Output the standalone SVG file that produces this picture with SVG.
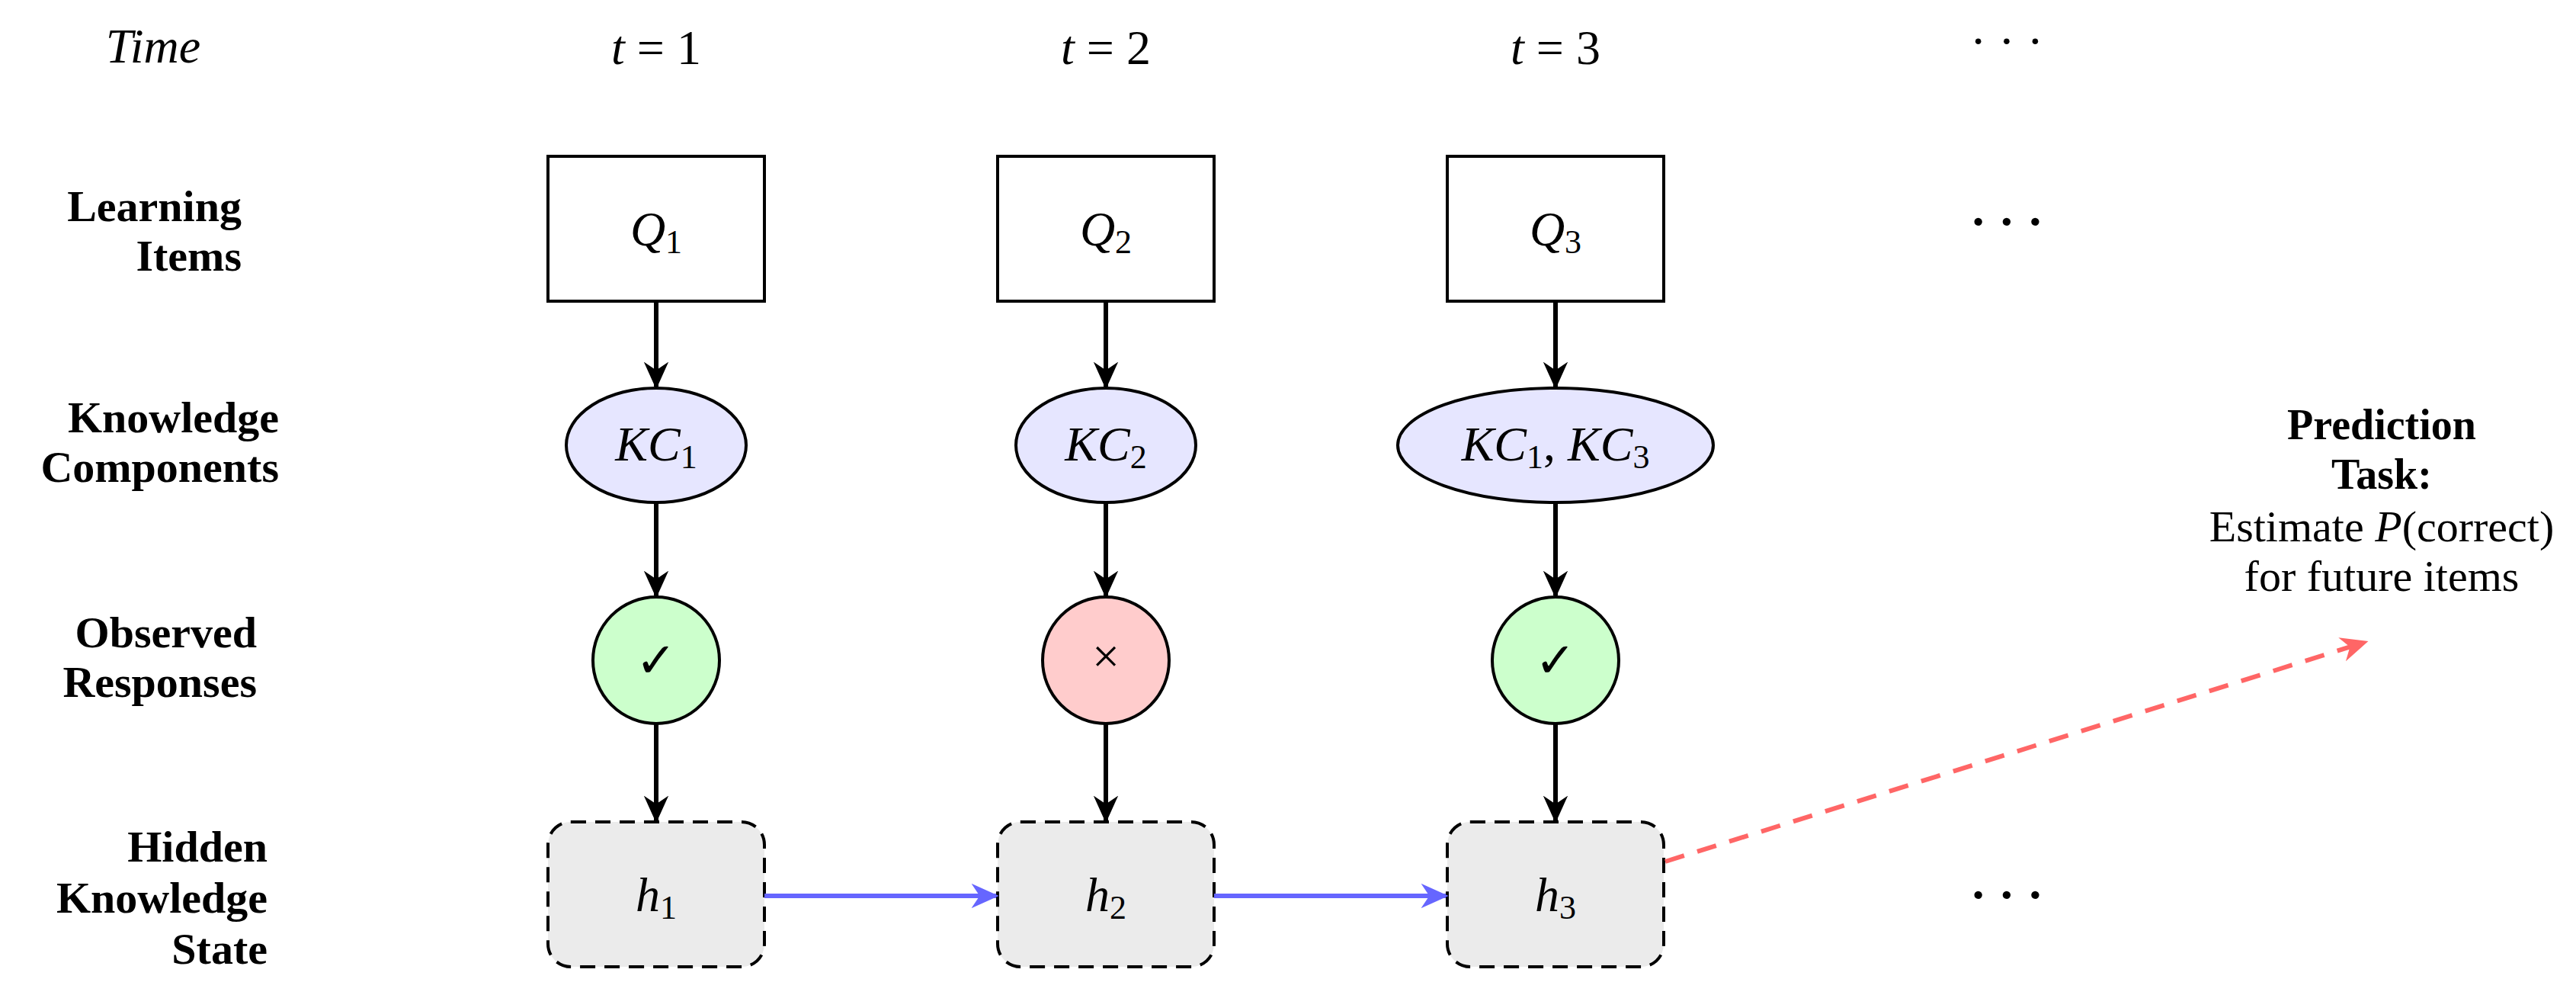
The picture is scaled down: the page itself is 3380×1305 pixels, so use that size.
<svg xmlns="http://www.w3.org/2000/svg" width="3380" height="1305" viewBox="0 0 3380 1305">
<defs>
<style>
text{font-family:"Liberation Serif","DejaVu Serif",serif;fill:#000}
.lab{font-weight:bold;font-size:58px;text-anchor:end}
.m{font-style:italic;font-size:64px;text-anchor:middle}
.r{font-style:normal}
.sub{font-size:44px;font-style:normal}
.box{fill:#fff;stroke:#000;stroke-width:4}
.kc{fill:#e6e6ff;stroke:#000;stroke-width:4}
.h{fill:#ebebeb;stroke:#000;stroke-width:4;stroke-dasharray:20 12}
.blk{stroke:#000;stroke-width:6;fill:none;marker-end:url(#ab)}
.blu{stroke:#6666ff;stroke-width:6;fill:none;marker-end:url(#au)}
</style>
<marker id="ab" viewBox="0 0 20 20" refX="18" refY="10" markerWidth="6" markerHeight="6" markerUnits="strokeWidth" orient="auto"><path d="M0,1 L20,10 L0,19 L6,10 Z" fill="#000"/></marker>
<marker id="au" viewBox="0 0 20 20" refX="18" refY="10" markerWidth="6" markerHeight="6" markerUnits="strokeWidth" orient="auto"><path d="M0,1 L20,10 L0,19 L6,10 Z" fill="#6666ff"/></marker>
<marker id="ar" viewBox="0 0 20 20" refX="18" refY="10" markerWidth="6" markerHeight="6" markerUnits="strokeWidth" orient="auto"><path d="M0,1 L20,10 L0,19 L6,10 Z" fill="#ff6666"/></marker>
</defs>
<g id="labels">
<text x="201" y="82" class="m" font-size="54">Time</text>
<text x="861" y="84" class="m">t <tspan class="r">= 1</tspan></text>
<text x="1451" y="84" class="m">t <tspan class="r">= 2</tspan></text>
<text x="2041" y="84" class="m">t <tspan class="r">= 3</tspan></text>
<text x="2633" y="75" class="m r" font-size="54">· · ·</text>
<text class="lab"><tspan x="317" y="290">Learning</tspan><tspan x="317" y="355">Items</tspan></text>
<text class="lab"><tspan x="366" y="567">Knowledge</tspan><tspan x="366" y="632">Components</tspan></text>
<text class="lab"><tspan x="337" y="849">Observed</tspan><tspan x="337" y="914">Responses</tspan></text>
<text class="lab"><tspan x="351" y="1130">Hidden</tspan><tspan x="351" y="1197">Knowledge</tspan><tspan x="351" y="1264">State</tspan></text>
<text x="2633" y="312" class="m r" font-size="76" font-weight="bold">· · ·</text>
<text x="2633" y="1195" class="m r" font-size="76" font-weight="bold">· · ·</text>
</g>
<g id="prediction" text-anchor="middle">
<text x="3125" y="576" font-weight="bold" font-size="56">Prediction</text>
<text x="3125" y="641" font-weight="bold" font-size="56">Task:</text>
<text x="3125" y="710" font-size="58">Estimate <tspan font-style="italic">P</tspan>(correct)</text>
<text x="3125" y="775" font-size="58">for future items</text>
</g>
<g id="col1">
<g id="q1"><rect class="box" x="719" y="205" width="284" height="190"/><text x="861" y="322" class="m">Q<tspan class="sub" dy="10">1</tspan></text></g>
<g id="kc1"><ellipse class="kc" cx="861" cy="584" rx="118" ry="75"/><text x="861" y="604" class="m">KC<tspan class="sub" dy="10">1</tspan></text></g>
<g id="r1"><circle cx="861" cy="866" r="83" fill="#ccffcc" stroke="#000" stroke-width="4"/><text x="861" y="888" class="m r" font-size="64">✓</text></g>
<g id="h1"><rect class="h" x="719" y="1078" width="284" height="190" rx="30"/><text x="861" y="1195" class="m">h<tspan class="sub" dy="10">1</tspan></text></g>
</g>
<g id="col2">
<g id="q2"><rect class="box" x="1309" y="205" width="284" height="190"/><text x="1451" y="322" class="m">Q<tspan class="sub" dy="10">2</tspan></text></g>
<g id="kc2"><ellipse class="kc" cx="1451" cy="584" rx="118" ry="75"/><text x="1451" y="604" class="m">KC<tspan class="sub" dy="10">2</tspan></text></g>
<g id="r2"><circle cx="1451" cy="866" r="83" fill="#ffcccc" stroke="#000" stroke-width="4"/><text x="1451" y="882" class="m r" font-size="48">×</text></g>
<g id="h2"><rect class="h" x="1309" y="1078" width="284" height="190" rx="30"/><text x="1451" y="1195" class="m">h<tspan class="sub" dy="10">2</tspan></text></g>
</g>
<g id="col3">
<g id="q3"><rect class="box" x="1899" y="205" width="284" height="190"/><text x="2041" y="322" class="m">Q<tspan class="sub" dy="10">3</tspan></text></g>
<g id="kc3"><ellipse class="kc" cx="2041" cy="584" rx="207" ry="75"/><text x="2041" y="604" class="m">KC<tspan class="sub" dy="10">1</tspan><tspan dy="-10" class="r">, </tspan>KC<tspan class="sub" dy="10">3</tspan></text></g>
<g id="r3"><circle cx="2041" cy="866" r="83" fill="#ccffcc" stroke="#000" stroke-width="4"/><text x="2041" y="888" class="m r" font-size="64">✓</text></g>
<g id="h3"><rect class="h" x="1899" y="1078" width="284" height="190" rx="30"/><text x="2041" y="1195" class="m">h<tspan class="sub" dy="10">3</tspan></text></g>
</g>
<g id="connectors">
<line class="blk" x1="861" y1="395" x2="861" y2="507"/>
<line class="blk" x1="861" y1="659" x2="861" y2="781"/>
<line class="blk" x1="861" y1="949" x2="861" y2="1076"/>
<line class="blk" x1="1451" y1="395" x2="1451" y2="507"/>
<line class="blk" x1="1451" y1="659" x2="1451" y2="781"/>
<line class="blk" x1="1451" y1="949" x2="1451" y2="1076"/>
<line class="blk" x1="2041" y1="395" x2="2041" y2="507"/>
<line class="blk" x1="2041" y1="659" x2="2041" y2="781"/>
<line class="blk" x1="2041" y1="949" x2="2041" y2="1076"/>
<line class="blu" x1="1003" y1="1175" x2="1307" y2="1175"/>
<line class="blu" x1="1593" y1="1175" x2="1897" y2="1175"/>
<line x1="2185" y1="1130" x2="3104" y2="842" stroke="#ff6666" stroke-width="6" stroke-dasharray="26 18" marker-end="url(#ar)"/>
</g>
</svg>
